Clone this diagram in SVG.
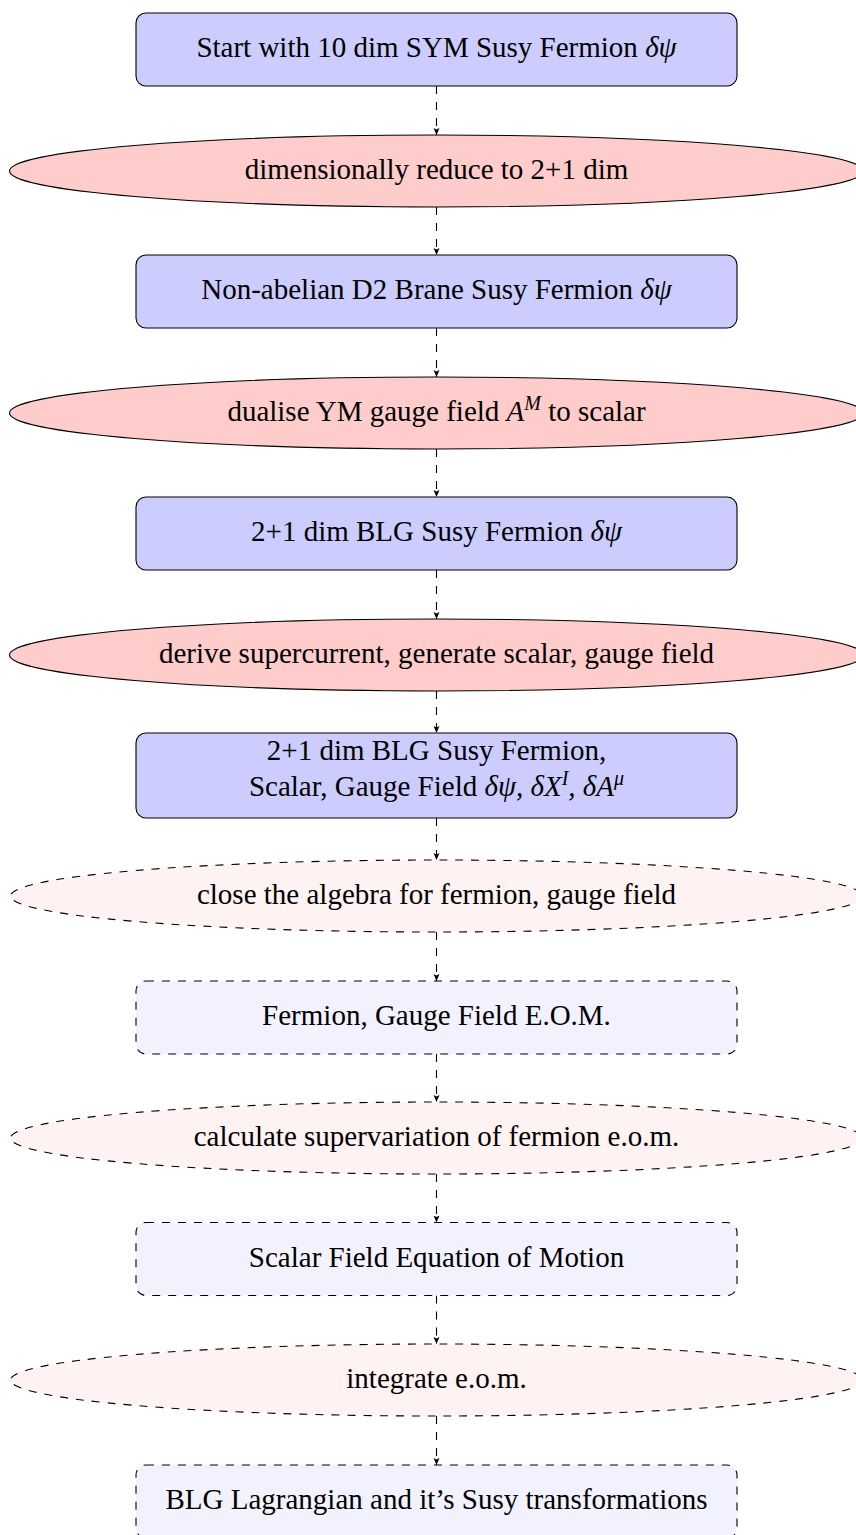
<svg xmlns="http://www.w3.org/2000/svg" width="856" height="1535" viewBox="0 0 856 1535">
<style>
.box{fill:#ccccff;stroke:#000;stroke-width:1.1}
.ell{fill:#ffcccc;stroke:#000;stroke-width:1.1}
.dbox{fill:#f2f2ff;stroke:#000;stroke-width:1.1;stroke-dasharray:8 8}
.dell{fill:#fff2f2;stroke:#000;stroke-width:1.1;stroke-dasharray:8 8}
.lbl{font-size:29px;fill:#000;text-anchor:middle}
.m{font-style:italic}
.sup{font-style:italic;font-size:20px}
.conn{stroke:#000;stroke-width:1.1;stroke-dasharray:8 8;fill:none;marker-end:url(#ah)}
</style>
<defs>
<marker id="ah" markerUnits="userSpaceOnUse" markerWidth="8" markerHeight="8" refX="7" refY="3" orient="auto">
<path d="M0,0 L7,3 L0,6 L1.5,3 z" fill="#000"/>
</marker>
</defs>
<g id="connectors">
<line class="conn" x1="436.5" y1="86" x2="436.5" y2="135"/>
<line class="conn" x1="436.5" y1="207" x2="436.5" y2="255"/>
<line class="conn" x1="436.5" y1="328" x2="436.5" y2="377"/>
<line class="conn" x1="436.5" y1="449" x2="436.5" y2="497"/>
<line class="conn" x1="436.5" y1="570" x2="436.5" y2="619"/>
<line class="conn" x1="436.5" y1="691" x2="436.5" y2="733"/>
<line class="conn" x1="436.5" y1="818" x2="436.5" y2="860"/>
<line class="conn" x1="436.5" y1="932" x2="436.5" y2="981"/>
<line class="conn" x1="436.5" y1="1054" x2="436.5" y2="1102"/>
<line class="conn" x1="436.5" y1="1174" x2="436.5" y2="1222.5"/>
<line class="conn" x1="436.5" y1="1295.5" x2="436.5" y2="1344"/>
<line class="conn" x1="436.5" y1="1416" x2="436.5" y2="1465"/>
</g>
<g font-family="'Liberation Serif', 'DejaVu Serif', serif">
<g id="n1">
<rect class="box" x="136" y="13" width="601" height="73" rx="10"/>
<text class="lbl" x="436.5" y="57">Start with 10 dim SYM Susy Fermion <tspan class="m">δψ</tspan></text>
</g>
<g id="n2">
<ellipse class="ell" cx="436.5" cy="171" rx="427" ry="36"/>
<text class="lbl" x="436.5" y="178.5">dimensionally reduce to 2+1 dim</text>
</g>
<g id="n3">
<rect class="box" x="136" y="255" width="601" height="73" rx="10"/>
<text class="lbl" x="436.5" y="299">Non-abelian D2 Brane Susy Fermion <tspan class="m">δψ</tspan></text>
</g>
<g id="n4">
<ellipse class="ell" cx="436.5" cy="413" rx="427" ry="36"/>
<text class="lbl" x="436.5" y="420.5">dualise YM gauge field <tspan class="m">A</tspan><tspan class="sup" dy="-11">M</tspan><tspan dy="11"> to scalar</tspan></text>
</g>
<g id="n5">
<rect class="box" x="136" y="497" width="601" height="73" rx="10"/>
<text class="lbl" x="436.5" y="541">2+1 dim BLG Susy Fermion <tspan class="m">δψ</tspan></text>
</g>
<g id="n6">
<ellipse class="ell" cx="436.5" cy="655" rx="427" ry="36"/>
<text class="lbl" x="436.5" y="662.5">derive supercurrent, generate scalar, gauge field</text>
</g>
<g id="n7">
<rect class="box" x="136" y="733" width="601" height="85" rx="10"/>
<text class="lbl" x="436.5" y="760">2+1 dim BLG Susy Fermion,</text>
<text class="lbl" x="436.5" y="795.5">Scalar, Gauge Field <tspan class="m">δψ, δX</tspan><tspan class="sup" dy="-11">I</tspan><tspan class="m" dy="11">, δA</tspan><tspan class="sup" dy="-11">μ</tspan></text>
</g>
<g id="n8">
<ellipse class="dell" cx="436.5" cy="896" rx="426" ry="36"/>
<text class="lbl" x="436.5" y="903.5">close the algebra for fermion, gauge field</text>
</g>
<g id="n9">
<rect class="dbox" x="136" y="981" width="601" height="73" rx="10"/>
<text class="lbl" x="436.5" y="1025">Fermion, Gauge Field E.O.M.</text>
</g>
<g id="n10">
<ellipse class="dell" cx="436.5" cy="1138" rx="426" ry="36"/>
<text class="lbl" x="436.5" y="1145.5">calculate supervariation of fermion e.o.m.</text>
</g>
<g id="n11">
<rect class="dbox" x="136" y="1222.5" width="601" height="73" rx="10"/>
<text class="lbl" x="436.5" y="1266.5">Scalar Field Equation of Motion</text>
</g>
<g id="n12">
<ellipse class="dell" cx="436.5" cy="1380" rx="426" ry="36"/>
<text class="lbl" x="436.5" y="1387.5">integrate e.o.m.</text>
</g>
<g id="n13">
<rect class="dbox" x="136" y="1465" width="601" height="73" rx="10"/>
<text class="lbl" x="436.5" y="1509">BLG Lagrangian and it’s Susy transformations</text>
</g>
</g>
</svg>
